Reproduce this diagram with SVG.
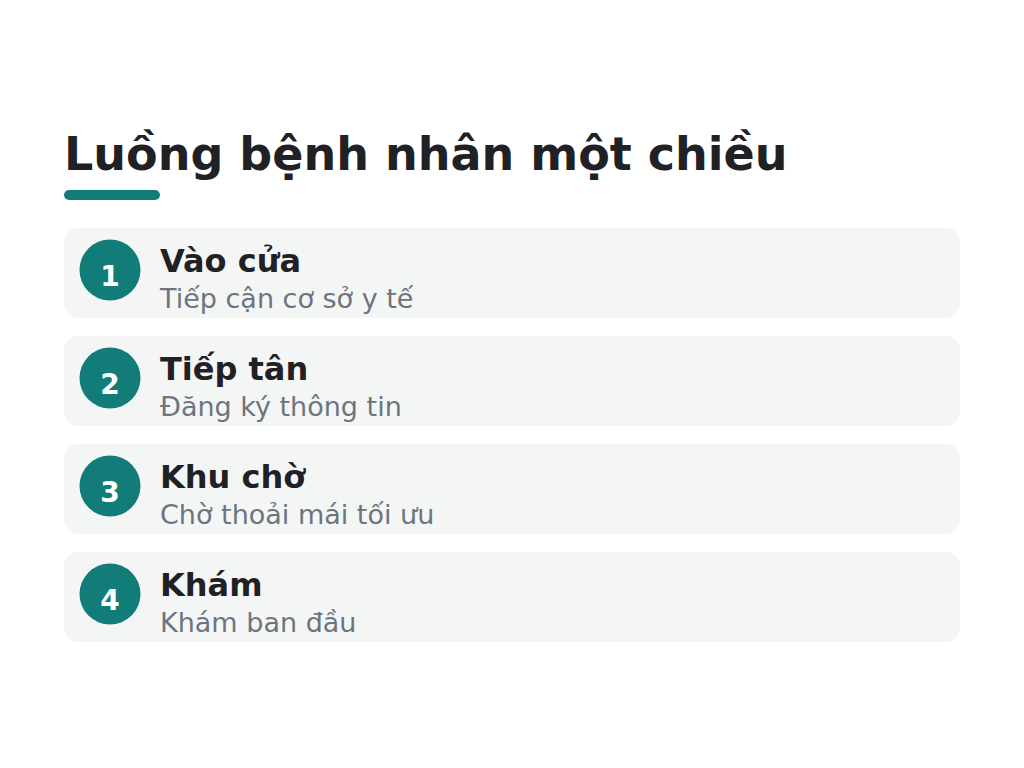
<svg xmlns="http://www.w3.org/2000/svg" width="1024" height="768" viewBox="0 0 1024 768">
<style>
.title{font-family:"DejaVu Sans",sans-serif;font-weight:bold;font-size:46px;fill:#1f2124}
.card{fill:#f4f6f6}
.badge{fill:#127c78}
.num{font-family:"DejaVu Sans",sans-serif;font-weight:bold;font-size:28px;fill:#ffffff;text-anchor:middle}
.lbl{font-family:"DejaVu Sans",sans-serif;font-weight:bold;font-size:32px;fill:#1f2124}
.sub{font-family:"DejaVu Sans",sans-serif;font-size:27px;fill:#6c757d}
</style>
<rect width="1024" height="768" fill="#ffffff"/>
<text class="title" x="64" y="170">Luồng bệnh nhân một chiều</text>
<rect x="64" y="190" width="96" height="10" rx="5" fill="#127c78"/>
<g id="step1">
<rect class="card" x="64" y="228" width="896" height="90" rx="14"/>
<circle class="badge" cx="110" cy="270" r="30.5"/>
<text class="num" x="110" y="286">1</text>
<text class="lbl" x="160" y="272">Vào cửa</text>
<text class="sub" x="160" y="308">Tiếp cận cơ sở y tế</text>
</g>
<g id="step2">
<rect class="card" x="64" y="336" width="896" height="90" rx="14"/>
<circle class="badge" cx="110" cy="378" r="30.5"/>
<text class="num" x="110" y="394">2</text>
<text class="lbl" x="160" y="380">Tiếp tân</text>
<text class="sub" x="160" y="416">Đăng ký thông tin</text>
</g>
<g id="step3">
<rect class="card" x="64" y="444" width="896" height="90" rx="14"/>
<circle class="badge" cx="110" cy="486" r="30.5"/>
<text class="num" x="110" y="502">3</text>
<text class="lbl" x="160" y="488">Khu chờ</text>
<text class="sub" x="160" y="524">Chờ thoải mái tối ưu</text>
</g>
<g id="step4">
<rect class="card" x="64" y="552" width="896" height="90" rx="14"/>
<circle class="badge" cx="110" cy="594" r="30.5"/>
<text class="num" x="110" y="610">4</text>
<text class="lbl" x="160" y="596">Khám</text>
<text class="sub" x="160" y="632">Khám ban đầu</text>
</g>
<g id="connectors"/>
</svg>
